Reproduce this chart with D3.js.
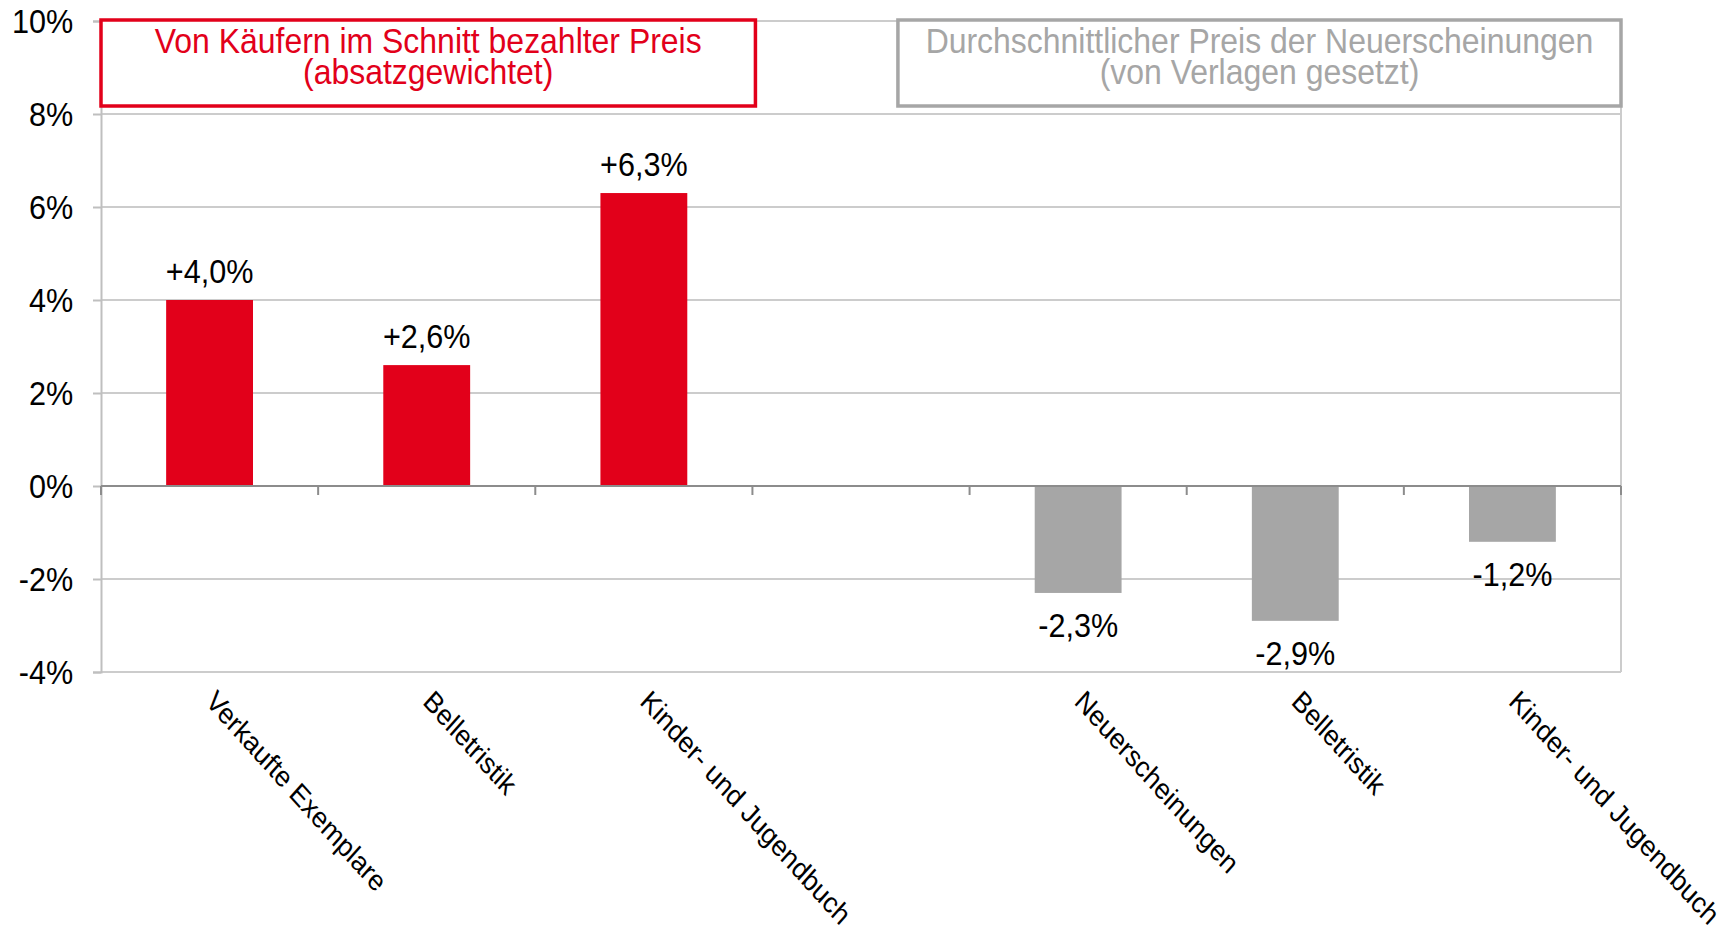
<!DOCTYPE html>
<html>
<head>
<meta charset="utf-8">
<script src="https://cdn.jsdelivr.net/npm/d3@7"></script>
<style>
  body { margin: 0; background: #fff; }
  svg { display: block; font-family: "Liberation Sans", Arial, sans-serif; }
</style>
</head>
<body>
<svg></svg>
<script>
// data
const categories = ["Verkaufte Exemplare", "Belletristik", "Kinder- und Jugendbuch", "", "Neuerscheinungen", "Belletristik", "Kinder- und Jugendbuch"];
const values = [4.0, 2.6, 6.3, null, -2.3, -2.9, -1.2];
const valueLabels = ["+4,0%", "+2,6%", "+6,3%", "", "-2,3%", "-2,9%", "-1,2%"];
const groups = ["paid", "paid", "paid", null, "list", "list", "list"];
const yTicks = [-4, -2, 0, 2, 4, 6, 8, 10];
const legendPaid = ["Von Käufern im Schnitt bezahlter Preis", "(absatzgewichtet)"];
const legendList = ["Durchschnittlicher Preis der Neuerscheinungen", "(von Verlagen gesetzt)"];

const w = 1735;
const h = 933;
const m = { top: 21, right: 114, bottom: 261, left: 101 };
const sx = 0.9; // the original text is a bit narrow
const red = "#e2001a";
const grey = "#a6a6a6";
const colors = { paid: red, list: grey };

let svg = d3.select("svg").attr("width", w).attr("height", h);

let x = d3.scaleBand()
    .domain(d3.range(categories.length))
    .range([m.left, w - m.right])
    .paddingInner(0.6)
    .paddingOuter(0.3);

let y = d3.scaleLinear()
    .domain([-4, 10])
    .range([h - m.bottom, m.top]);

// grid
svg.append("g")
   .selectAll("line")
   .data(yTicks)
   .enter()
   .append("line")
   .attr("x1", m.left)
   .attr("x2", w - m.right)
   .attr("y1", d => y(d))
   .attr("y2", d => y(d))
   .attr("stroke", "#cccccc")
   .attr("stroke-width", 2);

// right border
svg.append("line")
   .attr("x1", w - m.right).attr("x2", w - m.right)
   .attr("y1", y(10)).attr("y2", y(-4))
   .attr("stroke", "#cccccc")
   .attr("stroke-width", 2);

// y axis
let yAxis = d3.axisLeft(y)
    .tickValues(yTicks)
    .tickFormat(d => d + "%")
    .tickSize(8);

let gy = svg.append("g")
   .attr("transform", `translate(${m.left}, 0)`)
   .call(yAxis);
gy.select(".domain").attr("stroke", "#bfbfbf").attr("stroke-width", 2);
gy.selectAll(".tick line").attr("stroke", "#bfbfbf").attr("stroke-width", 2);
gy.selectAll(".tick text")
   .attr("x", -31)
   .attr("dy", "0.35em")
   .attr("transform", `scale(${sx},1)`)
   .attr("fill", "#000")
   .style("font-size", "34px")
   .style("font-family", "Liberation Sans, Arial, sans-serif");

// bars
svg.selectAll("rect.bar")
   .data(values.map((v, i) => ({ v, i })).filter(d => d.v !== null))
   .enter()
   .append("rect")
   .attr("class", "bar")
   .attr("x", d => x(d.i))
   .attr("width", x.bandwidth())
   .attr("y", d => y(Math.max(0, d.v)))
   .attr("height", d => Math.abs(y(d.v) - y(0)))
   .attr("fill", d => colors[groups[d.i]]);

// zero line with category boundary ticks
svg.append("line")
   .attr("x1", m.left).attr("x2", w - m.right)
   .attr("y1", y(0)).attr("y2", y(0))
   .attr("stroke", "#8c8c8c")
   .attr("stroke-width", 2);

let edges = d3.range(categories.length + 1).map(i => m.left + (x.paddingOuter() - x.paddingInner() / 2) * x.step() + i * x.step());
svg.append("g")
   .selectAll("line")
   .data(edges)
   .enter()
   .append("line")
   .attr("x1", d => d).attr("x2", d => d)
   .attr("y1", y(0)).attr("y2", y(0) + 9)
   .attr("stroke", "#8c8c8c")
   .attr("stroke-width", 2);

// value labels
svg.selectAll("text.val")
   .data(values.map((v, i) => ({ v, i })).filter(d => d.v !== null))
   .enter()
   .append("text")
   .attr("class", "val")
   .attr("text-anchor", "middle")
   .attr("transform", d => {
       let cx = x(d.i) + x.bandwidth() / 2;
       let cy = d.v >= 0 ? y(d.v) - 17 : y(d.v) + 44;
       return `translate(${cx},${cy}) scale(${sx},1)`;
   })
   .style("font-size", "34px")
   .text(d => valueLabels[d.i]);

// category labels, slanted
svg.selectAll("text.cat")
   .data(categories.map((c, i) => ({ c, i })).filter(d => d.c !== ""))
   .enter()
   .append("text")
   .attr("class", "cat")
   .attr("transform", d => `translate(${x(d.i) + x.bandwidth() / 2 - 5},${y(-4) + 31}) scale(${sx},1) rotate(45)`)
   .style("font-size", "29px")
   .text(d => d.c);

// legend boxes
let legendBox = (lines, x0, x1, col) => {
    svg.append("rect")
       .attr("x", x0).attr("y", 20)
       .attr("width", x1 - x0).attr("height", 86)
       .attr("fill", "#fff")
       .attr("stroke", col)
       .attr("stroke-width", 3.5);
    let t = svg.append("text")
       .attr("text-anchor", "middle")
       .attr("transform", `translate(${(x0 + x1) / 2},53) scale(${sx},1)`)
       .attr("fill", col)
       .style("font-size", "35.5px");
    lines.forEach((s, k) => {
        t.append("tspan")
         .attr("x", 0)
         .attr("dy", k === 0 ? 0 : 31)
         .text(s);
    });
};
legendBox(legendPaid, m.left, edges[3] + 3, red);
legendBox(legendList, edges[3] + 0.67 * x.step(), w - m.right, grey);
</script>
</body>
</html>
